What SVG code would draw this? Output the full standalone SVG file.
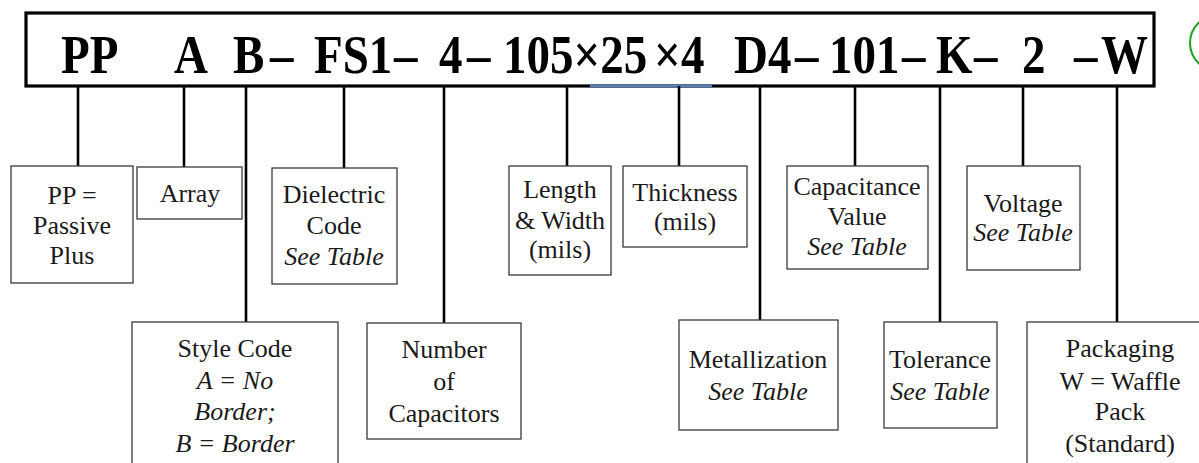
<svg xmlns="http://www.w3.org/2000/svg" width="1199" height="463" viewBox="0 0 1199 463">
<style>
.box{fill:#fff;stroke:#3a3a3a;stroke-width:1.3}
.lbl{font-family:"Liberation Serif","Times New Roman",serif;font-size:26px;fill:#1a1a1a;text-anchor:middle}
.it{font-style:italic}
.code{font-family:"Liberation Serif","Times New Roman",serif;font-size:47px;font-weight:bold;fill:#000}
.conn line{stroke:#000;stroke-width:2.6}
</style>
<rect width="1199" height="463" fill="#fff"/>
<g id="code-box">
<rect x="26" y="13" width="1128" height="73" fill="#fff" stroke="#000" stroke-width="3.2"/>
<g transform="translate(0,73) scale(1,1.15)">
<text class="code" y="0"><tspan x="61">PP</tspan><tspan x="174">A</tspan><tspan x="233">B</tspan><tspan x="270">–</tspan><tspan x="314">FS1</tspan><tspan x="394">–</tspan><tspan x="439">4</tspan><tspan x="467">–</tspan><tspan x="503">105×25</tspan><tspan x="654">×</tspan><tspan x="681">4</tspan><tspan x="734">D4</tspan><tspan x="795">–</tspan><tspan x="829">101</tspan><tspan x="902">–</tspan><tspan x="936">K</tspan><tspan x="974">–</tspan><tspan x="1022">2</tspan><tspan x="1074">–</tspan><tspan x="1101">W</tspan></text>
</g>
<line x1="590" y1="86" x2="712" y2="86" stroke="#4f81bd" stroke-width="2.5"/>
</g>
<g id="green-mark">
<circle cx="1218" cy="43" r="28" fill="none" stroke="#1aa31a" stroke-width="2"/>
</g>
<g id="connectors" class="conn">
<line x1="78" y1="86" x2="78" y2="166"/>
<line x1="184" y1="86" x2="184" y2="167"/>
<line x1="246" y1="86" x2="246" y2="322"/>
<line x1="344" y1="86" x2="344" y2="168"/>
<line x1="444" y1="86" x2="444" y2="323"/>
<line x1="567" y1="86" x2="567" y2="166"/>
<line x1="679" y1="86" x2="679" y2="166"/>
<line x1="760" y1="86" x2="760" y2="320"/>
<line x1="855" y1="86" x2="855" y2="166"/>
<line x1="940" y1="86" x2="940" y2="322"/>
<line x1="1023" y1="86" x2="1023" y2="166"/>
<line x1="1117" y1="86" x2="1117" y2="322"/>
</g>
<g id="pp">
<rect class="box" x="11" y="166" width="122" height="117"/>
<text class="lbl" x="72" y="204">PP =</text>
<text class="lbl" x="72" y="234">Passive</text>
<text class="lbl" x="72" y="264">Plus</text>
</g>
<g id="array">
<rect class="box" x="137" y="167" width="105" height="52"/>
<text class="lbl" x="190" y="202">Array</text>
</g>
<g id="dielectric">
<rect class="box" x="272" y="168" width="125" height="116"/>
<text class="lbl" x="334" y="203">Dielectric</text>
<text class="lbl" x="334" y="234">Code</text>
<text class="lbl it" x="334" y="265">See Table</text>
</g>
<g id="style">
<rect class="box" x="132" y="322" width="206" height="160"/>
<text class="lbl" x="235" y="357">Style Code</text>
<text class="lbl it" x="235" y="389">A = No</text>
<text class="lbl it" x="235" y="420">Border;</text>
<text class="lbl it" x="235" y="452">B = Border</text>
</g>
<g id="number">
<rect class="box" x="367" y="323" width="154" height="116"/>
<text class="lbl" x="444" y="358">Number</text>
<text class="lbl" x="444" y="390">of</text>
<text class="lbl" x="444" y="422">Capacitors</text>
</g>
<g id="length">
<rect class="box" x="509" y="166" width="102" height="109"/>
<text class="lbl" x="560" y="198">Length</text>
<text class="lbl" x="560" y="229">&amp; Width</text>
<text class="lbl" x="560" y="258">(mils)</text>
</g>
<g id="thickness">
<rect class="box" x="623" y="166" width="124" height="81"/>
<text class="lbl" x="685" y="201">Thickness</text>
<text class="lbl" x="685" y="230">(mils)</text>
</g>
<g id="metallization">
<rect class="box" x="679" y="320" width="159" height="110"/>
<text class="lbl" x="758" y="368">Metallization</text>
<text class="lbl it" x="758" y="400">See Table</text>
</g>
<g id="capacitance">
<rect class="box" x="787" y="166" width="141" height="103"/>
<text class="lbl" x="857" y="195">Capacitance</text>
<text class="lbl" x="857" y="225">Value</text>
<text class="lbl it" x="857" y="255">See Table</text>
</g>
<g id="tolerance">
<rect class="box" x="884" y="322" width="113" height="106"/>
<text class="lbl" x="940" y="368">Tolerance</text>
<text class="lbl it" x="940" y="400">See Table</text>
</g>
<g id="voltage">
<rect class="box" x="967" y="166" width="113" height="104"/>
<text class="lbl" x="1023" y="212">Voltage</text>
<text class="lbl it" x="1023" y="241">See Table</text>
</g>
<g id="packaging">
<rect class="box" x="1027" y="322" width="190" height="160"/>
<text class="lbl" x="1120" y="357">Packaging</text>
<text class="lbl" x="1120" y="390">W = Waffle</text>
<text class="lbl" x="1120" y="420">Pack</text>
<text class="lbl" x="1120" y="452">(Standard)</text>
</g>
</svg>
